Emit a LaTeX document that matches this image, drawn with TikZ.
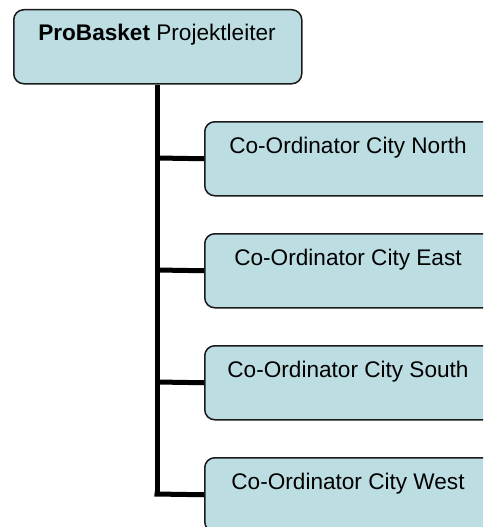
\documentclass[tikz,border=0pt]{standalone}
\usepackage{fontspec}
\setmainfont{Liberation Sans}
\definecolor{boxfill}{HTML}{BCDEE3}
\definecolor{boxline}{HTML}{1A1A1A}
\tikzset{
  orgbox/.style={draw=boxline, line width=1.5pt, fill=boxfill, rounded corners=10pt,
    minimum width=288pt, minimum height=74pt, inner sep=0pt, anchor=north west},
  boxtext/.style={font=\fontsize{22.6}{26}\selectfont, anchor=base, inner sep=0pt},
  conn/.style={line width=5pt, draw=black}
}
\begin{document}
\begin{tikzpicture}[x=1pt,y=-1pt]
\useasboundingbox (0,0) rectangle (483,527);
\begin{scope}
\clip (0,0) rectangle (483,527);
\node[orgbox] (top) at (13,9) {};
\node[orgbox] (n) at (204,121) {};
\node[orgbox] (e) at (204,233) {};
\node[orgbox] (s) at (204,345) {};
\node[orgbox] (w) at (204,457) {};
\coordinate (trunk) at (157,83);
\coordinate (jn) at (157,158);
\coordinate (je) at (157,270);
\coordinate (js) at (157,382);
\coordinate (jw) at (157,494);
\draw[conn] (top.south -| trunk) -- ([yshift=2.5pt]jw.center);
\draw[conn] ([xshift=-2.5pt]jw) -- (w.west);
\draw[conn] (jn) -- (n.west);
\draw[conn] (je) -- (e.west);
\draw[conn] (js) -- (s.west);
\node[boxtext] (tt) at (157,41) {\textbf{ProBasket} Projektleiter};
\end{scope}
\node[boxtext] (nt) at (348,153) {Co-Ordinator City North};
\node[boxtext] (et) at (348,265) {Co-Ordinator City East};
\node[boxtext] (st) at (348,377) {Co-Ordinator City South};
\node[boxtext] (wt) at (348,489) {Co-Ordinator City West};
\end{tikzpicture}
\end{document}
